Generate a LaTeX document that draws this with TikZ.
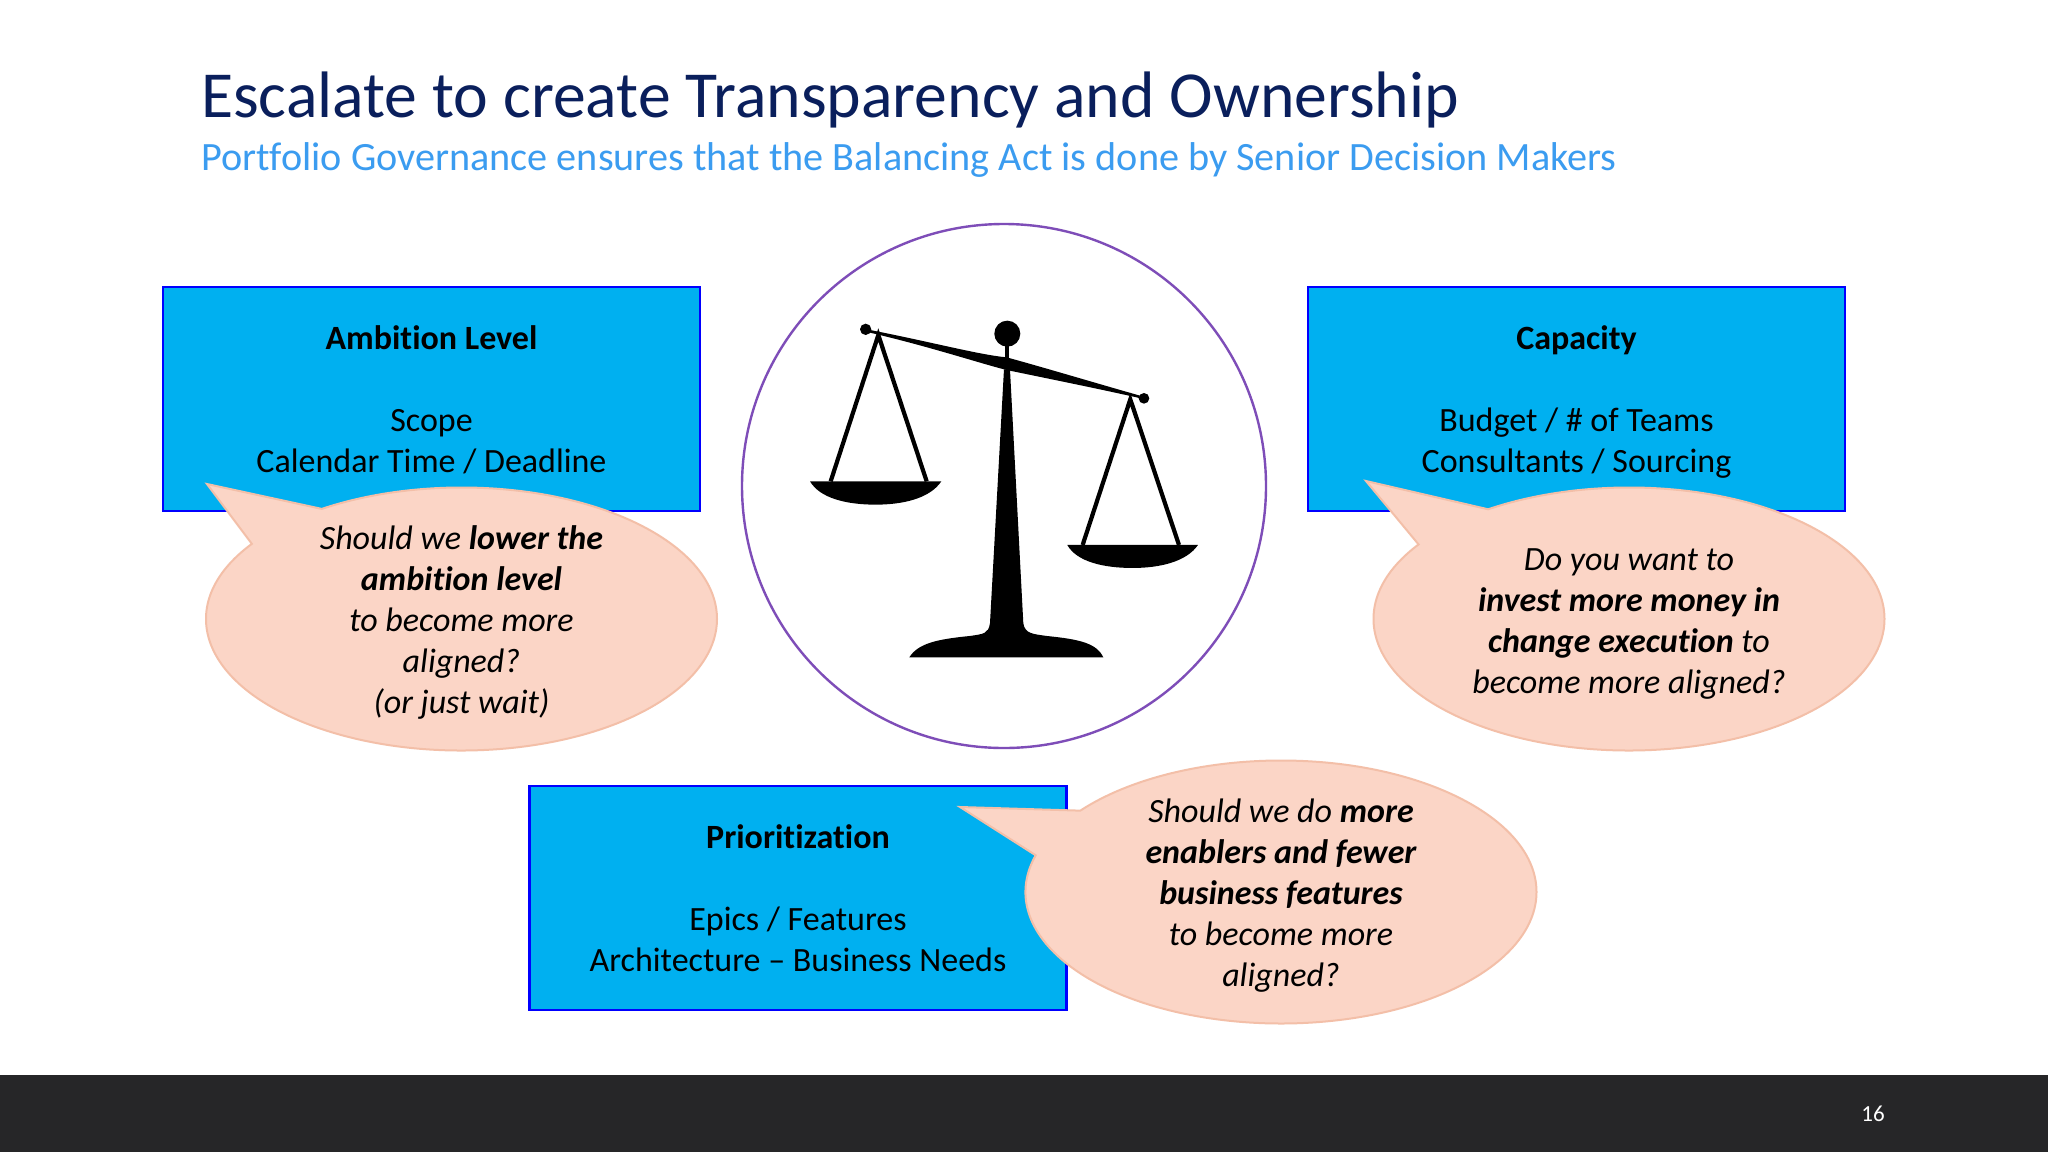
\documentclass[tikz,border=0pt]{standalone}
\usepackage{fontspec}
\setmainfont[Ligatures=NoCommon]{Carlito}
\usetikzlibrary{shapes.callouts}
\definecolor{titleblue}{HTML}{0A1F5C}
\definecolor{subblue}{HTML}{3B9CF0}
\definecolor{boxblue}{HTML}{00B0F0}
\definecolor{bubblefill}{HTML}{FBD5C6}
\definecolor{bubbleline}{HTML}{F3BFA8}
\definecolor{ringpurple}{HTML}{7E4DB8}
\definecolor{footdark}{HTML}{262628}
\newcommand{\firststrut}{\rule{0pt}{35.3pt}}
\begin{document}
\begin{tikzpicture}[x=1pt,y=-1pt,
      infobox/.style={draw=blue,fill=boxblue,line width=2.3pt,minimum width=537pt,minimum height=224pt,
        align=center,inner sep=0pt,font=\fontsize{34}{41}\selectfont},
      bubble/.style={ellipse callout,draw=bubbleline,fill=bubblefill,line width=2pt,minimum width=511pt,
        minimum height=263pt,inner sep=0pt,callout pointer arc=22},
      bubbletext/.style={align=center,inner sep=0pt,font=\fontsize{34}{41}\selectfont\itshape}]
      \path[use as bounding box,fill=white] (0,0) rectangle (2048,1152);
      \fill[footdark] (0,1075) rectangle (2048,1152);
      \node[anchor=base west,inner sep=0pt,text=titleblue,font=\fontsize{65.7}{72}\selectfont] (headline) at (201,117) {Escalate to create Transparency and Ownership};
      \node[anchor=base west,inner sep=0pt,text=subblue,font=\fontsize{40.2}{48}\selectfont] (subline) at (201,170) {Portfolio Governance ensures that the Balancing Act is done by Senior Decision Makers};
      \node[anchor=center,inner sep=0pt,text=white,font=\fontsize{23}{26}\selectfont] (pageno) at (1873,1114) {16};
      \node[circle,draw=ringpurple,fill=white,line width=2.4pt,minimum size=524pt,inner sep=0pt] (ring) at (1004,486) {};
      \begin{scope}[shift={(780,280)},x=0.3333pt,y=-0.3333pt]
        \fill (257,148) circle[radius=17];
        \fill (682,161) circle[radius=39];
        \fill (1092,355) circle[radius=16];
        \fill (270,150) .. controls (450,185) and (600,225) .. (680,232) .. controls (800,265) and (950,310) .. (1080,347)
          -- (1078,354) .. controls (950,325) and (800,295) .. (680,270) .. controls (600,250) and (450,200) .. (270,158) -- cycle;
        \fill (675,195) rectangle (687,240);
        \fill (672,268) -- (690,268) -- (730,1030) .. controls (735,1062) and (760,1062) .. (800,1068)
          .. controls (900,1078) and (950,1090) .. (970,1132) -- (388,1132) .. controls (415,1090) and (470,1078) .. (570,1068)
          .. controls (610,1062) and (625,1062) .. (630,1030) -- cycle;
        \fill (90,604) -- (484,604) .. controls (450,655) and (370,674) .. (287,674) .. controls (200,674) and (120,655) .. (90,604) -- cycle;
        \fill (862,795) -- (1254,795) .. controls (1220,845) and (1140,864) .. (1058,864) .. controls (970,864) and (890,845) .. (862,795) -- cycle;
        \draw[line width=4.2pt] (152,604) -- (295,165) -- (440,604);
        \draw[line width=4.2pt] (908,795) -- (1051,358) -- (1197,795);
      \end{scope}
      \node[infobox] (ambition) at (431.5,399) {\firststrut\textbf{Ambition Level}\\ \\Scope\\Calendar Time / Deadline\strut};
      \node[infobox] (capacity) at (1576.5,399) {\firststrut\textbf{Capacity}\\ \\Budget / \# of Teams\\Consultants / Sourcing\strut};
      \node[infobox] (priority) at (798,898) {\firststrut\textbf{Prioritization}\\ \\Epics / Features\\Architecture -- Business Needs\strut};
      \node[bubble,callout absolute pointer={(207,484)}] (lowerbubble) at (461.5,619) {};
      \node[bubble,callout absolute pointer={(1366,481)}] (moneybubble) at (1629,619) {};
      \node[bubble,callout absolute pointer={(960,807)}] (enablerbubble) at (1281,892) {};
      \node[bubbletext,yshift=-3.5pt] (lowertext) at (lowerbubble.center) {Should we \textbf{lower the}\\\textbf{ambition level}\\to become more\\aligned?\\(or just wait)};
      \node[bubbletext,yshift=-5pt] (moneytext) at (moneybubble.center) {Do you want to\\\textbf{invest more money in}\\\textbf{change execution} to\\become more aligned?};
      \node[bubbletext,yshift=-4pt] (enablertext) at (enablerbubble.center) {Should we do \textbf{more}\\\textbf{enablers and fewer}\\\textbf{business features}\\to become more\\aligned?};
\end{tikzpicture}
\end{document}
